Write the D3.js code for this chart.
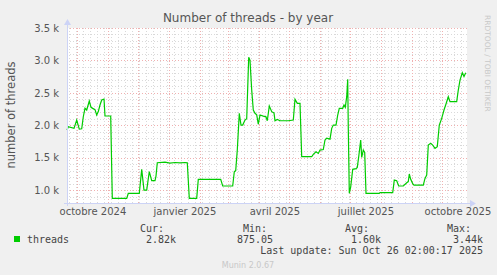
<!DOCTYPE html>
<html>
<head>
<meta charset="utf-8">
<script src="https://cdn.jsdelivr.net/npm/d3@7"></script>
<style>
  body { margin: 0; background: #f0f0f0; }
  svg { display: block; font-family: "DejaVu Sans", sans-serif; }
  .grid line { shape-rendering: crispEdges; }
</style>
</head>
<body>
<svg id="chart" width="497" height="275"></svg>
<script>
// Data: days since the start of the 400 day window, and thread counts
var dayOffsets = [0,1.3,7,9.7,12.3,14.7,16.3,18,19.7,22.3,
  24,25.7,28,29.7,31.3,33,34.7,37,38,43.7,
  45.3,59.7,61.3,72.3,74.7,77,79.7,82.3,84.7,88,
  89,90.3,98,103,108,113,118,120.3,122.3,129.7,
  131.3,153.7,155.7,165.7,167.3,168.7,170.3,172.3,174,175.7,
  178,179.7,181.7,183,184.7,186.3,188,189.7,191.3,193,
  196.3,199,200.3,202.3,204.7,207,208,210.3,213,221.3,
  226.3,228,230.3,233,234.7,244.7,246.3,249,251.3,253,
  256.3,258,259.7,263,264.7,266.3,269,270.7,272.3,275.7,
  277,278.3,279.7,280.7,281.3,282.3,283.7,285.7,289,290.3,
  291.7,293.7,294.7,296.3,297.7,299,312.3,313,325.7,327.3,
  329.7,331.7,336.3,339.7,341.3,342.3,343.7,345.7,347,356.3,
  358,359.7,361.3,363.7,365.7,368,370.3,372.3,374.7,377,
  379,381.3,383,389.7,391.3,393,395.3,397,398.7];
var threads = [1926,1977,1952,2080,1941,1945,2131,2261,2235,2373,
  2276,2260,2240,2157,2210,2312,2389,2404,2142,2142,
  872,872,949,949,1319,1000,1000,1283,1144,1144,
  1216,1421,1430,1415,1425,1418,1425,1420,872,872,
  1165,1165,1062,1062,1283,1300,1617,2184,2003,2003,
  2080,2100,3048,3000,2543,2235,2184,2160,2018,2157,
  2140,2130,2069,2296,2209,2190,2069,2090,2069,2069,
  2080,2400,2338,2338,1514,1514,1550,1591,1565,1617,
  1625,1772,1800,1785,1952,2003,2003,2157,2261,2261,
  2313,2276,2440,2708,1950,949,1050,1319,1330,1350,
  1514,1772,1504,1617,1580,949,949,960,960,1154,
  1144,1062,1062,1113,1130,1247,1165,1100,1075,1075,
  1180,1230,1694,1720,1694,1643,1670,2003,2106,2235,
  2327,2440,2363,2363,2543,2697,2810,2750,2810];

var xLabels = ["octobre 2024", "janvier 2025", "avril 2025", "juillet 2025", "octobre 2025"];
var xLabelMonths = [[2024, 9], [2025, 0], [2025, 3], [2025, 6], [2025, 9]];
var yTicks = [1000, 1500, 2000, 2500, 3000, 3500];
var statLabels = ["Cur:", "Min:", "Avg:", "Max:"];
var statValues = ["2.82k", "875.05", "1.60k", "3.44k"];

// Graph area (munin: 400 x 175)
var gLeft = 67, gTop = 28, w = 400, h = 175;
var lineColor = "#00cc00";
var minorColor = "#d9d9d9", majorColor = "#f0b0b0";

var end = new Date(2025, 9, 26, 2, 0, 17);
var start = d3.timeDay.offset(end, -400);

var x = d3.scaleTime().domain([start, end]).range([gLeft, gLeft + w]);
var y = d3.scaleLinear().domain([800, 3500]).range([gTop + h, gTop]);

var svg = d3.select("#chart");

// white canvas
svg.append("rect")
  .attr("x", gLeft).attr("y", gTop)
  .attr("width", w).attr("height", h)
  .attr("fill", "#fff");

// minor grid
var minorY = d3.range(900, 3500, 100).filter(function(v) { return v % 500 !== 0; });
svg.append("g").attr("class", "grid").selectAll("line")
  .data(minorY).enter().append("line")
  .attr("x1", gLeft).attr("x2", gLeft + w)
  .attr("y1", function(d) { return Math.round(y(d)) + 0.5; })
  .attr("y2", function(d) { return Math.round(y(d)) + 0.5; })
  .attr("stroke", minorColor).attr("stroke-dasharray", "1,2");

var minorX = d3.timeMonday.range(start, end);
svg.append("g").attr("class", "grid").selectAll("line")
  .data(minorX).enter().append("line")
  .attr("x1", function(d) { return Math.round(x(d)) + 0.5; })
  .attr("x2", function(d) { return Math.round(x(d)) + 0.5; })
  .attr("y1", gTop).attr("y2", gTop + h)
  .attr("stroke", minorColor).attr("stroke-dasharray", "1,2");

// major grid
svg.append("g").attr("class", "grid").selectAll("line")
  .data(yTicks).enter().append("line")
  .attr("x1", gLeft).attr("x2", gLeft + w)
  .attr("y1", function(d) { return Math.round(y(d)) + 0.5; })
  .attr("y2", function(d) { return Math.round(y(d)) + 0.5; })
  .attr("stroke", majorColor).attr("stroke-dasharray", "1,2");

var majorX = d3.timeMonth.range(start, end);
svg.append("g").attr("class", "grid").selectAll("line")
  .data(majorX).enter().append("line")
  .attr("x1", function(d) { return Math.round(x(d)) + 0.5; })
  .attr("x2", function(d) { return Math.round(x(d)) + 0.5; })
  .attr("y1", gTop).attr("y2", gTop + h)
  .attr("stroke", majorColor).attr("stroke-dasharray", "1,2");

// the series
var points = dayOffsets.map(function(d, i) {
  return { t: d3.timeHour.offset(start, Math.round(d * 24)), v: threads[i] };
});
var line = d3.line()
  .x(function(d) { return x(d.t); })
  .y(function(d) { return y(d.v); });
svg.append("path")
  .datum(points)
  .attr("d", line)
  .attr("fill", "none")
  .attr("stroke", lineColor)
  .attr("stroke-width", 1.2);

// axes
var axisColor = "#ccd3f6";
svg.append("line")
  .attr("x1", gLeft + 0.5).attr("x2", gLeft + 0.5)
  .attr("y1", gTop + h + 3).attr("y2", gTop - 4)
  .attr("stroke", axisColor);
svg.append("path")
  .attr("d", "M" + (gLeft - 3) + "," + (gTop - 3) + "L" + (gLeft + 0.5) + "," + (gTop - 9) + "L" + (gLeft + 4) + "," + (gTop - 3) + "Z")
  .attr("fill", axisColor);
svg.append("line")
  .attr("x1", gLeft - 3).attr("x2", gLeft + w + 4)
  .attr("y1", gTop + h + 0.5).attr("y2", gTop + h + 0.5)
  .attr("stroke", axisColor);
svg.append("path")
  .attr("d", "M" + (gLeft + w + 3) + "," + (gTop + h - 3) + "L" + (gLeft + w + 9) + "," + (gTop + h + 0.5) + "L" + (gLeft + w + 3) + "," + (gTop + h + 4) + "Z")
  .attr("fill", axisColor);

// y tick labels
var yAxis = d3.axisLeft(y)
  .tickValues(yTicks)
  .tickSize(0)
  .tickPadding(8)
  .tickFormat(function(d) { return d3.format(".1f")(d / 1000) + " k"; });
var gy = svg.append("g").attr("transform", "translate(" + gLeft + ",0)").call(yAxis);
gy.select(".domain").remove();
gy.selectAll("text").attr("fill", "#555").style("font-size", "10px").style("font-family", "DejaVu Sans");

// x tick labels, centred in the middle of their month
var xTickDates = xLabelMonths.map(function(m) { return new Date(m[0], m[1], 16, 12); });
var xAxis = d3.axisBottom(x)
  .tickValues(xTickDates)
  .tickSize(0)
  .tickPadding(5)
  .tickFormat(function(d, i) { return xLabels[i]; });
var gx = svg.append("g").attr("transform", "translate(0," + (gTop + h) + ")").call(xAxis);
gx.select(".domain").remove();
gx.selectAll("text").attr("fill", "#555").style("font-size", "10px").style("font-family", "DejaVu Sans");

// title and axis title
svg.append("text")
  .attr("x", 248).attr("y", 22)
  .attr("text-anchor", "middle")
  .attr("fill", "#555")
  .style("font-size", "12px")
  .text("Number of threads - by year");

svg.append("text")
  .attr("transform", "translate(15,115) rotate(-90)")
  .attr("text-anchor", "middle")
  .attr("fill", "#555")
  .style("font-size", "11.5px")
  .text("number of threads");

svg.append("text")
  .attr("transform", "translate(485,15) rotate(90)")
  .attr("fill", "#c8c8c8")
  .style("font-size", "7.5px")
  .text("RRDTOOL / TOBI OETIKER");

// legend
var mono = "DejaVu Sans Mono";
svg.append("rect")
  .attr("x", 14).attr("y", 236)
  .attr("width", 6).attr("height", 6)
  .attr("fill", lineColor);
svg.append("text")
  .attr("x", 27).attr("y", 243)
  .attr("fill", "#444")
  .style("font-family", mono).style("font-size", "10px")
  .text("threads");

var labelX = [140, 243, 345, 447];
var valueEnd = [176, 273, 381, 483];
svg.append("g").selectAll("text")
  .data(statLabels).enter().append("text")
  .attr("x", function(d, i) { return labelX[i]; })
  .attr("y", 232)
  .attr("fill", "#444")
  .style("font-family", mono).style("font-size", "10px")
  .text(function(d) { return d; });
svg.append("g").selectAll("text")
  .data(statValues).enter().append("text")
  .attr("x", function(d, i) { return valueEnd[i]; })
  .attr("y", 243)
  .attr("text-anchor", "end")
  .attr("fill", "#444")
  .style("font-family", mono).style("font-size", "10px")
  .text(function(d) { return d; });

svg.append("text")
  .attr("x", 483).attr("y", 254)
  .attr("text-anchor", "end")
  .attr("fill", "#444")
  .style("font-family", mono).style("font-size", "10px")
  .text("Last update: Sun Oct 26 02:00:17 2025");

svg.append("text")
  .attr("x", 248).attr("y", 268)
  .attr("text-anchor", "middle")
  .attr("fill", "#c8c8c8")
  .style("font-size", "8px")
  .text("Munin 2.0.67");
</script>
</body>
</html>
